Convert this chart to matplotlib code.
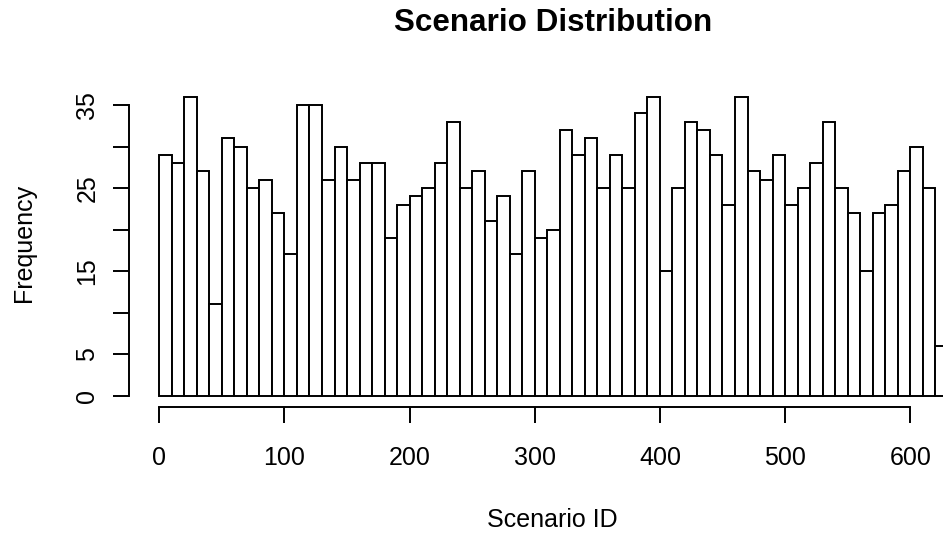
import numpy as np
import matplotlib
matplotlib.use("Agg")
import matplotlib.pyplot as plt

plt.rcParams['font.family'] = ['Liberation Sans', 'DejaVu Sans']

# Histogram bins (width 10) and counts per bin
bin_edges = list(range(0, 640, 10))
counts = [29, 28, 36, 27, 11, 31, 30, 25, 26, 22,
          17, 35, 35, 26, 30, 26, 28, 28, 19, 23,
          24, 25, 28, 33, 25, 27, 21, 24, 17, 27,
          19, 20, 32, 29, 31, 25, 29, 25, 34, 36,
          15, 25, 33, 32, 29, 23, 36, 27, 26, 29,
          23, 25, 28, 33, 25, 22, 15, 22, 23, 27,
          30, 25, 6]
x_ticks = [0, 100, 200, 300, 400, 500, 600]
y_ticks = [0, 5, 10, 15, 20, 25, 30, 35]
y_tick_labels = ['0', '5', '', '15', '', '25', '', '35']

W, H = 943, 535
fig = plt.figure(figsize=(W / 100, H / 100), dpi=100)

# plot region in pixels (it runs past the right edge of the figure)
x0_px, x_scale = 159.3, 1.2515          # px of x=0, px per unit
y0_px, y_scale = 395.7, 8.306           # px of y=0, px per unit
xlim = (-24, 654)
ylim = (-1.32, 37.44)
left_px = x0_px + xlim[0] * x_scale
right_px = x0_px + xlim[1] * x_scale
bottom_px = y0_px - ylim[0] * y_scale
top_px = y0_px - ylim[1] * y_scale
ax = fig.add_axes([left_px / W, 1 - bottom_px / H,
                   (right_px - left_px) / W, (bottom_px - top_px) / H])

edges = np.array(bin_edges[:-1])
ax.bar(edges, counts, width=10, align='edge', facecolor='white',
       edgecolor='black', linewidth=1.4)

ax.set_xlim(*xlim)
ax.set_ylim(*ylim)
for s in ('top', 'right'):
    ax.spines[s].set_visible(False)
ax.spines['bottom'].set_bounds(0, 600)
ax.spines['left'].set_bounds(0, 35)
for s in ('bottom', 'left'):
    ax.spines[s].set_linewidth(1.4)

ax.set_xticks(x_ticks)
ax.set_xticklabels([str(t) for t in x_ticks])
ax.set_yticks(y_ticks)
ax.set_yticklabels(y_tick_labels, rotation=90, va='center')
ax.tick_params(axis='both', direction='out', length=11.5, width=1.4,
               labelsize=18, colors='black')
ax.tick_params(axis='x', pad=17)
ax.tick_params(axis='y', pad=10)

fig.text(553.5 / W, 1 - 23 / H, 'Scenario Distribution', ha='center',
         va='center', fontsize=22.6, fontweight='bold')
fig.text(552.5 / W, 1 - 520 / H, 'Scenario ID', ha='center', va='center',
         fontsize=18)
fig.text(23.5 / W, 1 - 243 / H, 'Frequency', ha='center', va='center',
         rotation=90, fontsize=18)

fig.savefig('out.png', dpi=100)
